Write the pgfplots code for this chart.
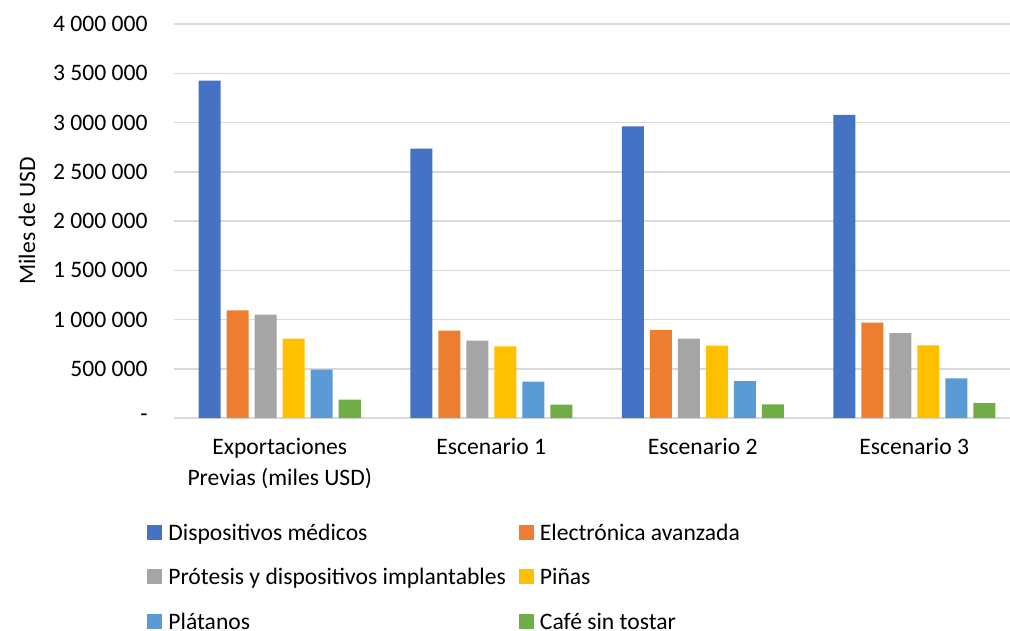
\documentclass[border=0pt]{standalone}
\usepackage{pgfplots}
\pgfplotsset{compat=1.18}
\usetikzlibrary{calc}
\usepackage{fontspec}
\setmainfont{Carlito}

\definecolor{cBlue}{HTML}{4472C4}
\definecolor{cOrange}{HTML}{ED7D31}
\definecolor{cGray}{HTML}{A5A5A5}
\definecolor{cYellow}{HTML}{FFC000}
\definecolor{cLblue}{HTML}{5B9BD5}
\definecolor{cGreen}{HTML}{70AD47}
\definecolor{cGrid}{HTML}{D9D9D9}

\begin{document}
\fontsize{11.8bp}{15.5bp}\selectfont
\begin{tikzpicture}
\begin{axis}[
    name=ax,
    scale only axis,
    width=423bp, height=197bp,
    ybar=3bp, bar width=11bp,
    xmin=-0.5, xmax=3.5,
    ymin=0, ymax=4000000,
    scaled y ticks=false,
    xtick={0,1,2,3},
    xticklabels={{Exportaciones\\Previas (miles USD)},{Escenario 1},{Escenario 2},{Escenario 3}},
    xticklabel style={align=center, anchor=north, inner sep=0pt, yshift=-10bp},
    ytick={0,500000,...,4000000},
    yticklabels={{-\hspace{4bp}},{500 000},{1 000 000},{1 500 000},{2 000 000},{2 500 000},{3 000 000},{3 500 000},{4 000 000}},
    yticklabel style={anchor=east, inner sep=0pt, xshift=-13bp},
    major tick length=0pt,
    ymajorgrids,
    grid style={cGrid, line width=0.75bp},
    axis line style={draw=none},
    ylabel={Miles de USD},
    every axis y label/.style={at={(axis description cs:-0.1736,0.5)}, rotate=90, anchor=center},
    legend columns=2,
    legend cell align=left,
    legend style={
        at={(-0.0319,-0.262)}, anchor=north west,
        draw=none, fill=none, inner sep=0pt,
        row sep=9.1bp,
        nodes={inner sep=1bp, text height=8.5bp, text depth=2.5bp},
        /tikz/every odd column/.append style={column sep=2bp},
        /tikz/every even column/.append style={column sep=5.5bp},
    },
    legend image code/.code={\fill[#1] (0bp,-2.75bp) rectangle (7.5bp,4.75bp);},
]
\addplot[draw=none, fill=cBlue] coordinates {(0,3425000) (1,2735000) (2,2961000) (3,3077000)};
\addplot[draw=none, fill=cOrange] coordinates {(0,1092000) (1,886000) (2,892000) (3,968000)};
\addplot[draw=none, fill=cGray] coordinates {(0,1049000) (1,785000) (2,805000) (3,862000)};
\addplot[draw=none, fill=cYellow] coordinates {(0,805000) (1,727000) (2,734000) (3,737000)};
\addplot[draw=none, fill=cLblue] coordinates {(0,491000) (1,369000) (2,375000) (3,403000)};
\addplot[draw=none, fill=cGreen] coordinates {(0,187000) (1,136000) (2,139000) (3,152000)};
\legend{Dispositivos médicos, Electrónica avanzada, Prótesis y dispositivos implantables, Piñas, Plátanos, Café sin tostar}
\end{axis}
\pgfresetboundingbox
\path[use as bounding box] ($(ax.south west)+(-87bp,-106.5bp)$) rectangle ($(ax.north west)+(418bp,12bp)$);
\end{tikzpicture}
\end{document}
